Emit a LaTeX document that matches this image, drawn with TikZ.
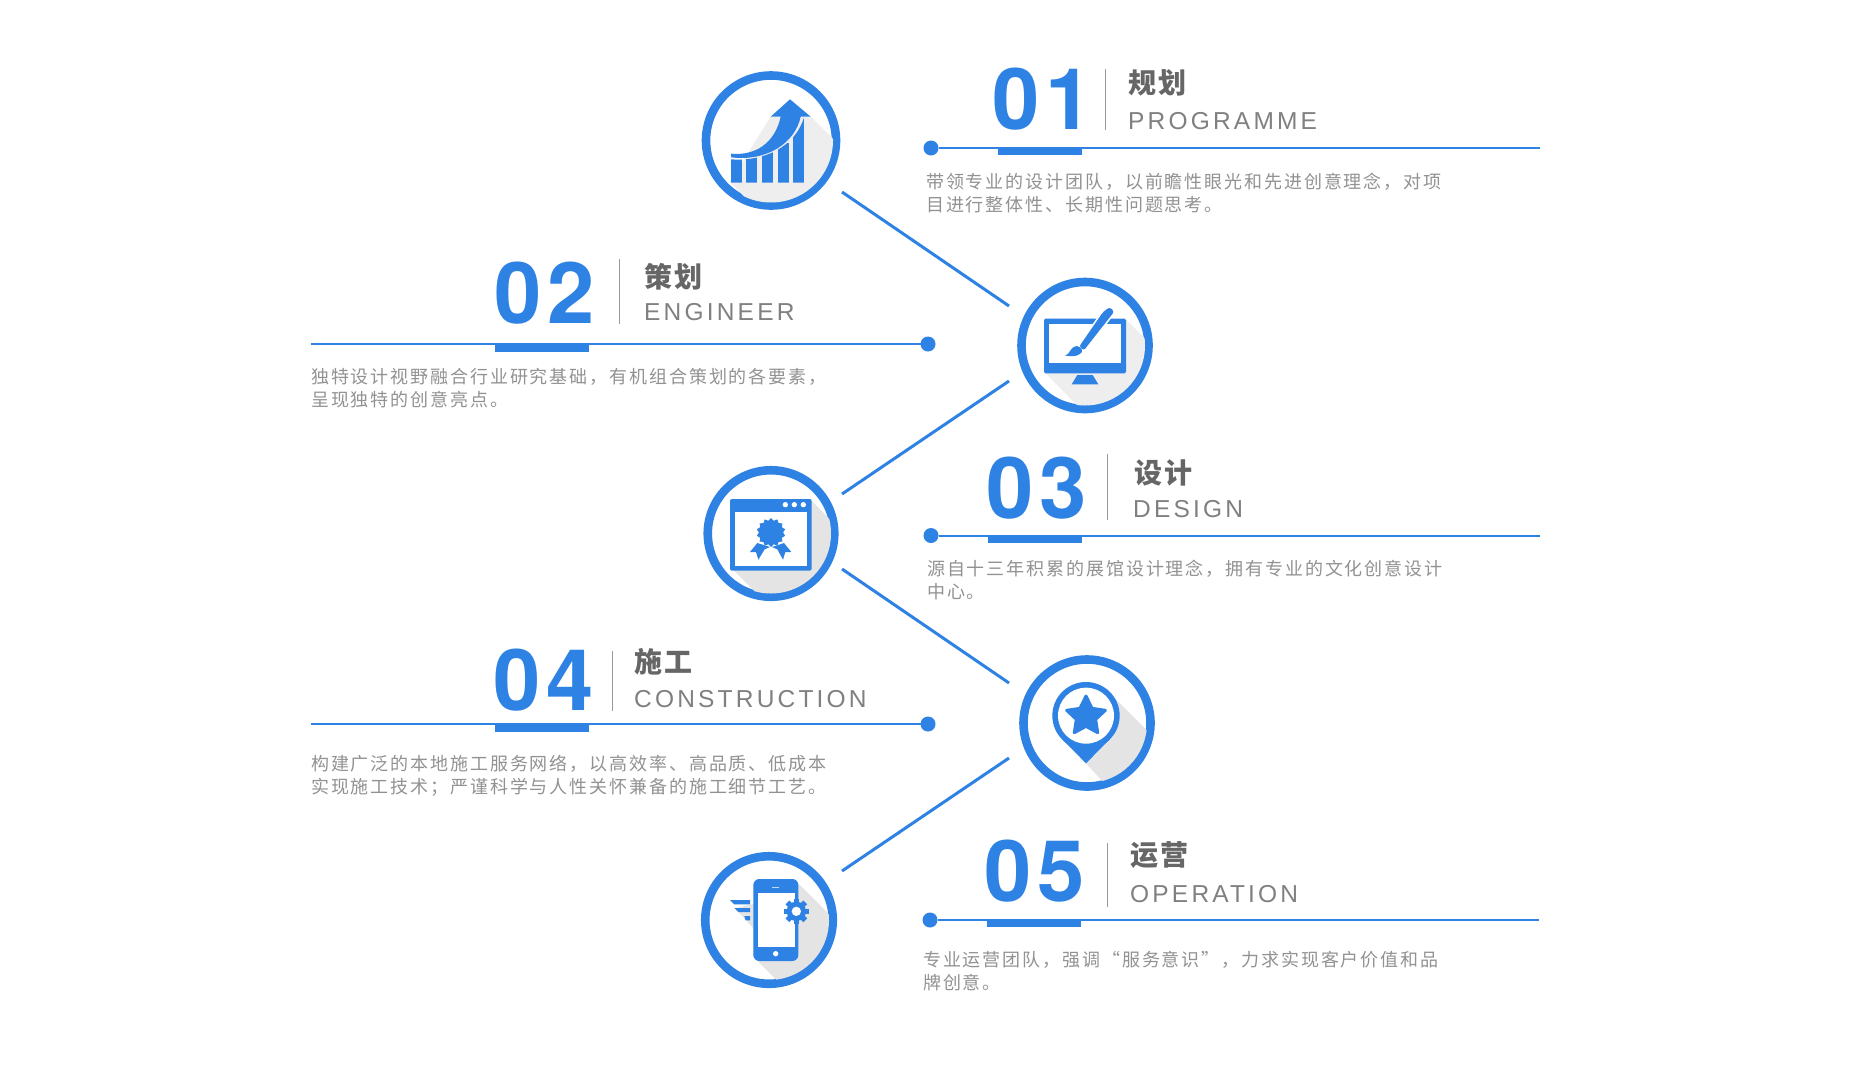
\documentclass[tikz,border=0pt]{standalone}
\usepackage{fontspec}
\usetikzlibrary{shapes.geometric}
\setmainfont{Liberation Sans}
\newfontfamily\numfont[LetterSpace=7]{TeX Gyre Heros}
\newfontfamily\latinfont[LetterSpace=13]{Liberation Sans}
\newfontfamily\cjkbody[LetterSpace=10.5]{Noto Sans CJK SC}
\newfontfamily\cjkhead[LetterSpace=10]{Noto Sans CJK SC}
\definecolor{mainblue}{HTML}{2E82E4}
\definecolor{shadeA}{HTML}{EEEEEE}
\definecolor{shadeB}{HTML}{E4E4E4}
\definecolor{headgray}{HTML}{666666}
\definecolor{latingray}{HTML}{808080}
\definecolor{bodygray}{HTML}{929292}
\tikzset{
  ring/.style={circle,draw=mainblue,line width=8.6pt,fill=white,inner sep=0pt,outer sep=0pt,minimum size=#1},
  dotnode/.style={circle,fill=mainblue,inner sep=0pt,outer sep=0pt,minimum size=15pt},
  linkline/.style={draw=mainblue,line width=3pt},
  rowline/.style={draw=mainblue,line width=2pt},
  numlabel/.style={anchor=base west,inner sep=0pt,text=mainblue,font=\fontsize{85}{85}\selectfont\numfont\bfseries},
  headlabel/.style={anchor=base west,inner sep=0pt,text=headgray,font=\fontsize{28}{28}\selectfont\cjkhead\bfseries},
  latinlabel/.style={anchor=base west,inner sep=0pt,text=latingray,font=\fontsize{24.5}{24.5}\selectfont\latinfont},
  bodylabel/.style={anchor=west,inner sep=0pt,align=left,text=bodygray,font=\fontsize{18}{23.5}\selectfont\cjkbody},
  divider/.style={draw=gray!80,line width=1pt},
  zoomA/.style={shift={(680,50)},scale=1/3},
  zoomB/.style={shift={(680,450)},scale=1/3},
  zoomC/.style={shift={(680,780)},scale=1/3},
}
\begin{document}
\begin{tikzpicture}[x=1pt,y=-1pt]
\useasboundingbox (0,0) rectangle (1851,1071);
\fill[white] (0,0) rectangle (1851,1071);

% rings
\node[ring=130pt] (c1) at (771,140.5) {};
\node[ring=127pt] (c2) at (1085,345.5) {};
\node[ring=126.5pt] (c3) at (771,533.5) {};
\node[ring=127pt] (c4) at (1087,723) {};
\node[ring=127.5pt] (c5) at (769,920) {};

% connectors
\coordinate (a1) at (842,192); \coordinate (b1) at (1009,306);
\coordinate (a2) at (842,494); \coordinate (b2) at (1009,381);
\coordinate (a3) at (842,569); \coordinate (b3) at (1009,683);
\coordinate (a4) at (842,871); \coordinate (b4) at (1009,758);
\draw[linkline] (a1) -- (b1);
\draw[linkline] (a2) -- (b2);
\draw[linkline] (a3) -- (b3);
\draw[linkline] (a4) -- (b4);

% ---------- icon 1
\begin{scope}
\clip (c1.center) circle [radius=62];
\fill[shadeA,zoomA] (272,200) -- (392,200) -- (480,288) -- (480,490) -- (240,490) -- (150,395) -- cycle;
\end{scope}
\begin{scope}[zoomA]
\begin{scope}
\clip (153,328) .. controls (255,335) and (345,290) .. (372,203) -- (373,398) -- (153,398) -- cycle;
\fill[mainblue] (153,300) rectangle (185,398);
\fill[mainblue] (199,300) rectangle (232,398);
\fill[mainblue] (246,300) rectangle (280,398);
\fill[mainblue] (293,280) rectangle (326,398);
\fill[mainblue] (339,200) rectangle (373,398);
\end{scope}
\fill[mainblue] (153,311) .. controls (225,318) and (285,280) .. (302,200) -- (272,200) -- (330,148) -- (392,200) -- (362,200) .. controls (345,280) and (260,335) .. (153,322) -- cycle;
\end{scope}

% ---------- icon 2
\begin{scope}
\clip (c2.center) circle [radius=60];
\fill[shadeA,zoomA] (1338,808) -- (1430,900) -- (1430,1100) -- (1225,1100) -- (1092,965) -- cycle;
\end{scope}
\begin{scope}[zoomA]
\fill[mainblue,rounded corners=1.5pt] (1092,806) rectangle (1338,970);
\fill[white] (1108,822) rectangle (1322,938);
\fill[mainblue] (1192,975) -- (1238,975) -- (1255,1003) -- (1175,1003) -- cycle;
\fill[mainblue,draw=white,line width=1.5pt,rounded corners=3pt] (1268,783) -- (1290,768) -- (1306,785) -- (1212,905) -- (1194,890) -- cycle;
\fill[mainblue] (1155,917) .. controls (1170,915) and (1168,892) .. (1190,888) .. controls (1205,890) and (1212,905) .. (1200,912) .. controls (1190,920) and (1170,919) .. (1155,917) -- cycle;
\end{scope}

% ---------- icon 3
\begin{scope}
\clip (c3.center) circle [radius=60];
\fill[shadeB,zoomB] (395,152) -- (480,240) -- (480,460) -- (260,460) -- (150,350) -- cycle;
\end{scope}
\begin{scope}[zoomB]
\fill[mainblue,rounded corners=2pt] (150,147) rectangle (395,362);
\fill[white] (165,187) rectangle (380,347);
\fill[white] (316,164) circle [radius=8];
\fill[white] (343,164) circle [radius=8];
\fill[white] (370,164) circle [radius=8];
\fill[mainblue] (210,306) -- (232,279) -- (270,291) -- (254,298) -- (235,329) -- (228,306) -- cycle;
\fill[mainblue] (334,306) -- (312,279) -- (276,291) -- (292,298) -- (309,329) -- (316,306) -- cycle;
\end{scope}
\node[star,star points=14,star point ratio=1.2,fill=mainblue,inner sep=0pt,outer sep=0pt,minimum size=29pt] (badge) at (771,532.5) {};

% ---------- icon 4
\begin{scope}
\clip (c4.center) circle [radius=60];
\fill[shadeB,zoomB] (1295,735) -- (1440,880) -- (1440,1040) -- (1310,1040) -- (1218,940) -- (1300,860) -- cycle;
\end{scope}
\begin{scope}[zoomB]
\fill[mainblue] (1218,797) circle [radius=101];
\fill[mainblue] (1147,868) -- (1289,868) -- (1218,940) -- cycle;
\fill[white] (1218,797) circle [radius=84];
\fill[mainblue,draw=mainblue,line width=3pt,line join=round] (1218,738) -- (1236,775) -- (1276,781) -- (1247,808) -- (1253,848) -- (1218,829) -- (1183,848) -- (1189,808) -- (1160,781) -- (1200,775) -- cycle;
\end{scope}

% ---------- icon 5
\begin{scope}
\clip (c5.center) circle [radius=60];
\fill[shadeB,zoomC] (355,310) -- (480,435) -- (480,640) -- (330,640) -- (220,530) -- (220,445) -- (165,385) -- (220,372) -- cycle;
\end{scope}
\begin{scope}[zoomC]
\fill[mainblue,rounded corners=6pt] (220,297) rectangle (355,543);
\fill[white] (234,340) rectangle (346,502);
\fill[white] (287,521) circle [radius=8];
\fill[white!70!mainblue] (276,320) rectangle (298,323);
\fill[mainblue] (150,360) -- (210,360) -- (210,373) -- (163,373) -- cycle;
\fill[mainblue] (163,384) -- (210,384) -- (210,396) -- (175,396) -- cycle;
\fill[mainblue] (193,408) -- (210,408) -- (210,421) -- (197,421) -- cycle;
\foreach \a in {0,45,90,135}
  \fill[mainblue,rotate around={\a:(349,394)}] (341,356) rectangle (357,432);
\fill[mainblue] (349,394) circle [radius=29];
\fill[white] (349,394) circle [radius=14];
\end{scope}

% ---------- row 01
\node[numlabel] (n1) at (992.5,129) {01};
\draw[divider] (1105,69) -- (1105,130);
\node[headlabel] (h1) at (1128,93) {规划};
\node[latinlabel] (l1) at (1128,129) {PROGRAMME};
\node[dotnode] (d1) at (931,148) {};
\coordinate (e1) at (1540,148);
\draw[rowline] (d1) -- (e1);
\fill[mainblue] (998,148) rectangle (1082,155);
\node[bodylabel] (t1) at (926,193) {带领专业的设计团队，以前瞻性眼光和先进创意理念，对项\\目进行整体性、长期性问题思考。};

% ---------- row 02
\node[numlabel] (n2) at (494.5,323.5) {02};
\draw[divider] (619,259) -- (619,324);
\node[headlabel] (h2) at (644,287) {策划};
\node[latinlabel] (l2) at (644,320.5) {ENGINEER};
\node[dotnode] (d2) at (928,344) {};
\coordinate (e2) at (311,344);
\draw[rowline] (d2) -- (e2);
\fill[mainblue] (495,344) rectangle (589,352);
\node[bodylabel] (t2) at (311,388) {独特设计视野融合行业研究基础，有机组合策划的各要素，\\呈现独特的创意亮点。};

% ---------- row 03
\node[numlabel] (n3) at (986.5,518) {03};
\draw[divider] (1107,454) -- (1107,520);
\node[headlabel] (h3) at (1134,483) {设计};
\node[latinlabel] (l3) at (1133,517) {DESIGN};
\node[dotnode] (d3) at (931,535.5) {};
\coordinate (e3) at (1540,535.5);
\draw[rowline] (d3) -- (e3);
\fill[mainblue] (988,535.5) rectangle (1082,542.5);
\node[bodylabel] (t3) at (927,580) {源自十三年积累的展馆设计理念，拥有专业的文化创意设计\\中心。};

% ---------- row 04
\node[numlabel] (n4) at (493.5,710) {04};
\draw[divider] (612,651) -- (612,711);
\node[headlabel] (h4) at (634,672.5) {施工};
\node[latinlabel] (l4) at (634,707.5) {CONSTRUCTION};
\node[dotnode] (d4) at (928,724) {};
\coordinate (e4) at (311,724);
\draw[rowline] (d4) -- (e4);
\fill[mainblue] (495,724) rectangle (589,732);
\node[bodylabel] (t4) at (311,776) {构建广泛的本地施工服务网络，以高效率、高品质、低成本\\实现施工技术；严谨科学与人性关怀兼备的施工细节工艺。};

% ---------- row 05
\node[numlabel] (n5) at (984,901) {05};
\draw[divider] (1107,843) -- (1107,907);
\node[headlabel] (h5) at (1130,865) {运营};
\node[latinlabel] (l5) at (1130,902) {OPERATION};
\node[dotnode] (d5) at (930,920) {};
\coordinate (e5) at (1539,920);
\draw[rowline] (d5) -- (e5);
\fill[mainblue] (987,920) rectangle (1081,927);
\node[bodylabel] (t5) at (923,971) {专业运营团队，强调“服务意识”，力求实现客户价值和品\\牌创意。};
\end{tikzpicture}
\end{document}
